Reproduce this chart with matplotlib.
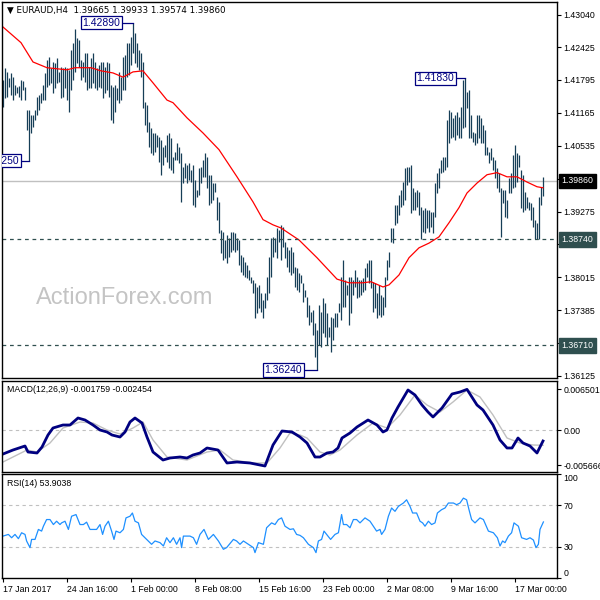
import numpy as np
import matplotlib
matplotlib.use('Agg')
import matplotlib.pyplot as plt
from matplotlib.transforms import blended_transform_factory

# EURAUD H4 bars, one high/low per bar
highs = [1.4180, 1.4203, 1.4195, 1.4184, 1.4193, 1.4185, 1.4170, 1.4166, 1.4168, 1.4180,
         1.4178, 1.4166, 1.4122, 1.4122, 1.4113, 1.4113, 1.4122, 1.4147, 1.4151, 1.4155,
         1.4170, 1.4193, 1.4218, 1.4224, 1.4203, 1.4214, 1.4212, 1.4222, 1.4195, 1.4205,
         1.4203, 1.4205, 1.4203, 1.4199, 1.4237, 1.4251, 1.4277, 1.4260, 1.4256, 1.4218,
         1.4214, 1.4231, 1.4231, 1.4205, 1.4222, 1.4231, 1.4214, 1.4203, 1.4208, 1.4214,
         1.4214, 1.4205, 1.4214, 1.4212, 1.4170, 1.4166, 1.4170, 1.4164, 1.4195, 1.4185,
         1.4224, 1.4228, 1.4251, 1.4251, 1.4262, 1.4289, 1.4270, 1.4251, 1.4237, 1.4231,
         1.4214, 1.4138, 1.4132, 1.4099, 1.4088, 1.4078, 1.4078, 1.4074, 1.4071, 1.4065,
         1.4051, 1.4055, 1.4074, 1.4078, 1.4069, 1.4032, 1.4042, 1.4059, 1.4051, 1.4040,
         1.4013, 1.4021, 1.4017, 1.4021, 1.4007, 1.4017, 1.3988, 1.3969, 1.4011, 1.4013,
         1.4026, 1.4040, 1.4032, 1.3998, 1.3998, 1.3982, 1.3982, 1.3956, 1.3946, 1.3892,
         1.3888, 1.3873, 1.3883, 1.3877, 1.3888, 1.3888, 1.3887, 1.3877, 1.3873, 1.3844,
         1.3841, 1.3831, 1.3825, 1.3816, 1.3802, 1.3797, 1.3791, 1.3783, 1.3787, 1.3772,
         1.3758, 1.3772, 1.3802, 1.3841, 1.3877, 1.3879, 1.3877, 1.3896, 1.3892, 1.3902,
         1.3898, 1.3869, 1.3860, 1.3854, 1.3860, 1.3850, 1.3821, 1.3820, 1.3810, 1.3806,
         1.3791, 1.3778, 1.3764, 1.3749, 1.3735, 1.3739, 1.3714, 1.3701, 1.3749, 1.3735,
         1.3762, 1.3753, 1.3733, 1.3706, 1.3726, 1.3724, 1.3733, 1.3733, 1.3753, 1.3802,
         1.3835, 1.3797, 1.3787, 1.3802, 1.3802, 1.3797, 1.3816, 1.3802, 1.3797, 1.3797,
         1.3800, 1.3820, 1.3829, 1.3835, 1.3835, 1.3793, 1.3791, 1.3772, 1.3787, 1.3768,
         1.3764, 1.3802, 1.3835, 1.3850, 1.3896, 1.3896, 1.3940, 1.3940, 1.3960, 1.3969,
         1.3984, 1.4011, 1.4013, 1.4013, 1.4017, 1.3973, 1.3965, 1.3969, 1.3965, 1.3937,
         1.3931, 1.3935, 1.3931, 1.3931, 1.3927, 1.3927, 1.3982, 1.4002, 1.4011, 1.4026,
         1.4032, 1.4032, 1.4103, 1.4122, 1.4118, 1.4107, 1.4113, 1.4118, 1.4109, 1.4128,
         1.4180, 1.4183, 1.4157, 1.4161, 1.4113, 1.4080, 1.4078, 1.4113, 1.4113, 1.4107,
         1.4093, 1.4084, 1.4051, 1.4042, 1.4049, 1.4032, 1.4026, 1.4011, 1.4002, 1.3973,
         1.3969, 1.3969, 1.3950, 1.3992, 1.4002, 1.4036, 1.4055, 1.4040, 1.4036, 1.4007,
         1.3998, 1.3965, 1.3956, 1.3946, 1.3944, 1.3937, 1.3912, 1.3906, 1.3956, 1.3975,
         1.3993]
lows = [1.4128, 1.4145, 1.4147, 1.4166, 1.4151, 1.4141, 1.4151, 1.4155, 1.4147, 1.4141,
        1.4161, 1.4141, 1.4084, 1.4025, 1.4078, 1.4090, 1.4103, 1.4113, 1.4122, 1.4136,
        1.4141, 1.4141, 1.4166, 1.4170, 1.4174, 1.4155, 1.4164, 1.4174, 1.4176, 1.4145,
        1.4147, 1.4164, 1.4141, 1.4118, 1.4161, 1.4180, 1.4195, 1.4212, 1.4205, 1.4180,
        1.4185, 1.4176, 1.4161, 1.4164, 1.4164, 1.4174, 1.4164, 1.4161, 1.4166, 1.4164,
        1.4145, 1.4155, 1.4161, 1.4147, 1.4103, 1.4097, 1.4118, 1.4141, 1.4136, 1.4141,
        1.4161, 1.4161, 1.4185, 1.4189, 1.4208, 1.4231, 1.4212, 1.4205, 1.4199, 1.4185,
        1.4126, 1.4093, 1.4080, 1.4051, 1.4040, 1.4036, 1.4042, 1.4051, 1.4023, 1.3998,
        1.4017, 1.4032, 1.4023, 1.4011, 1.4007, 1.4002, 1.4026, 1.4026, 1.4021, 1.3946,
        1.3982, 1.3992, 1.3982, 1.3988, 1.3984, 1.3940, 1.3937, 1.3956, 1.3960, 1.3982,
        1.3994, 1.3994, 1.3973, 1.3940, 1.3944, 1.3950, 1.3965, 1.3912, 1.3887, 1.3848,
        1.3835, 1.3839, 1.3829, 1.3841, 1.3850, 1.3854, 1.3850, 1.3854, 1.3825, 1.3812,
        1.3806, 1.3802, 1.3800, 1.3797, 1.3791, 1.3772, 1.3724, 1.3733, 1.3743, 1.3735,
        1.3724, 1.3743, 1.3758, 1.3772, 1.3802, 1.3841, 1.3850, 1.3839, 1.3869, 1.3835,
        1.3860, 1.3839, 1.3821, 1.3812, 1.3806, 1.3810, 1.3783, 1.3778, 1.3774, 1.3791,
        1.3754, 1.3764, 1.3726, 1.3710, 1.3716, 1.3691, 1.3649, 1.3624, 1.3672, 1.3668,
        1.3695, 1.3687, 1.3672, 1.3687, 1.3659, 1.3682, 1.3706, 1.3706, 1.3735, 1.3720,
        1.3745, 1.3745, 1.3768, 1.3710, 1.3733, 1.3768, 1.3783, 1.3762, 1.3764, 1.3768,
        1.3774, 1.3778, 1.3802, 1.3791, 1.3781, 1.3735, 1.3743, 1.3724, 1.3729, 1.3726,
        1.3729, 1.3745, 1.3797, 1.3821, 1.3869, 1.3867, 1.3902, 1.3906, 1.3921, 1.3937,
        1.3940, 1.3950, 1.3979, 1.3984, 1.3925, 1.3931, 1.3931, 1.3937, 1.3921, 1.3874,
        1.3888, 1.3887, 1.3896, 1.3888, 1.3898, 1.3887, 1.3917, 1.3963, 1.3973, 1.4002,
        1.4003, 1.4007, 1.4013, 1.4059, 1.4069, 1.4071, 1.4065, 1.4074, 1.4069, 1.4069,
        1.4088, 1.4090, 1.4126, 1.4069, 1.4069, 1.4061, 1.4055, 1.4059, 1.4069, 1.4059,
        1.4059, 1.4036, 1.4036, 1.4021, 1.4026, 1.4007, 1.3992, 1.3973, 1.3965, 1.3879,
        1.3944, 1.3917, 1.3915, 1.3963, 1.3963, 1.3973, 1.3975, 1.3984, 1.4013, 1.3935,
        1.3927, 1.3931, 1.3935, 1.3931, 1.3912, 1.3898, 1.3874, 1.3874, 1.3874, 1.3940,
        1.3957]

# red moving average
ma_idx = [0, 9, 15, 22, 32, 36, 44, 49, 55, 60, 65, 70, 75, 82, 85, 92, 100, 108, 117, 125,
          130, 133, 135, 139, 148, 157, 167, 173, 180, 184, 190, 193, 198, 203, 208, 213, 218,
          223, 228, 232, 237, 242, 247, 252, 257, 262, 267, 270]
ma_val = [1.4281, 1.4251, 1.4214, 1.4203, 1.4199, 1.4203, 1.4203, 1.4197, 1.4193, 1.4185,
          1.4195, 1.4197, 1.4174, 1.4141, 1.4136, 1.4107, 1.4078, 1.4046, 1.3994, 1.3946,
          1.3912, 1.3906, 1.3902, 1.3896, 1.3873, 1.3839, 1.3798, 1.3791, 1.3791, 1.3793,
          1.3783, 1.3787, 1.3806, 1.3839, 1.3858, 1.3867, 1.3879, 1.3906, 1.3935, 1.3963,
          1.3982, 1.3998, 1.4002, 1.3994, 1.3994, 1.3984, 1.3975, 1.3973]

# MACD(12,26,9)
macd_idx = [0, 5, 11, 12.5, 17, 19.5, 22.5, 25, 30, 33.5, 37.5, 41, 45, 48.5, 52, 54.5, 58.5,
            61, 63.5, 66, 69.5, 72, 75, 80, 83.5, 88.5, 92, 95, 98.5, 102, 107.5, 112, 117,
            123.5, 131, 135, 139.5, 144.5, 148.5, 152, 156, 158.5, 162, 165, 167.5, 169.5,
            173.5, 177, 182.5, 187, 190, 192, 194.5, 197.5, 202.5, 206, 209.5, 212.5, 215,
            219.5, 224.5, 228.5, 232, 237, 240, 245, 248.5, 252, 254.5, 257.5, 260, 263.5,
            267, 270]
macd_val = [-0.00384, -0.0032, -0.00256, -0.00352, -0.00368, -0.00272, -0.0008, 0.00032,
            0.0008, 0.0008, 0.00192, 0.0016, 0.0008, 0.0, -0.00032, -0.0008, -0.00112,
            -0.00032, 0.00128, 0.00192, 0.00112, -0.00112, -0.00352, -0.0048, -0.00448,
            -0.00432, -0.00448, -0.004, -0.00368, -0.00288, -0.0032, -0.00528, -0.00512,
            -0.00528, -0.00576, -0.0024, -0.00016, -0.00032, -0.00112, -0.00208, -0.00432,
            -0.00432, -0.00368, -0.00352, -0.00288, -0.00128, -0.00048, 0.00048, 0.0016,
            0.0008, -0.00032, 0.0, 0.00192, 0.00368, 0.0064, 0.0056, 0.004, 0.00288, 0.00208,
            0.00352, 0.00576, 0.00608, 0.0065, 0.004, 0.0032, 0.0008, -0.0016, -0.00288,
            -0.00288, -0.00128, -0.00208, -0.00256, -0.00368, -0.00176]
sig_idx = [0, 12, 17, 23.5, 30, 38.5, 45, 52, 58.5, 65, 70, 75, 82, 92, 102, 108.5, 115, 125,
           132, 138.5, 143.5, 148.5, 152, 158.5, 163.5, 168.5, 177, 185, 192, 198.5, 206, 212,
           218.5, 225, 232, 238.5, 245, 252, 258.5, 265, 270]
sig_val = [-0.00512, -0.0032, -0.00352, -0.00208, 0.00032, 0.00128, 0.00112, 0.0, -0.00064,
           0.00032, 0.00128, -0.0016, -0.00432, -0.0048, -0.00352, -0.0032, -0.0048, -0.00528,
           -0.00528, -0.00288, -0.00048, -0.0008, -0.00128, -0.00352, -0.004, -0.0032,
           -0.0008, 0.00112, 0.00032, 0.0024, 0.0056, 0.004, 0.00288, 0.00448, 0.0064,
           0.00528, 0.0024, -0.00128, -0.00208, -0.0024, -0.00245]

# RSI(14)
rsi_idx = [0, 2.7, 4.3, 6, 7.7, 9.3, 11, 11.8, 13.5, 14.3, 16, 17.7, 19.3, 20.2, 21.8, 23.5,
           25.2, 26.8, 28.5, 29.3, 31, 32.7, 34.3, 36.5, 38.5, 40.2, 41.8, 43.5, 46.8, 48.5,
           49.8, 51, 52.7, 54.3, 55.5, 56.5, 58.5, 60.2, 61.5, 63.5, 64.7, 66, 67.7, 69.3,
           71.8, 74.3, 76, 78.5, 80.2, 81.8, 83.5, 85.2, 86.8, 88.5, 89.3, 90.2, 93.5, 95.2,
           96.8, 98.5, 100.5, 102.7, 105.2, 107.7, 110.2, 111.8, 115.2, 116.8, 118.5, 120.2,
           122.7, 125.2, 126, 127.7, 130.2, 131.8, 134.3, 136, 137.7, 139.3, 141, 143.5, 145.2,
           146.8, 148.5, 150.2, 152.7, 155.2, 156.5, 157.7, 159.3, 160.5, 161.8, 163.8, 166,
           167.7, 169.3, 170.2, 171.8, 173.5, 175.2, 176.8, 178.5, 181, 183.5, 185.2, 186.8,
           188.5, 189.3, 191, 192.7, 194.3, 196, 197.7, 200.2, 201.8, 203.5, 204.8, 206.8,
           208.5, 209.8, 211, 212.7, 214.3, 216, 217.2, 219.3, 221, 222.7, 225.2, 226.8, 228.5,
           230.2, 231.8, 233, 234.3, 236, 238.5, 240.2, 242.7, 245.2, 247.2, 248.5, 249.8, 251,
           252.7, 254.3, 255.5, 257.7, 259.3, 261.8, 263.5, 265.2, 266.5, 267.7, 268.5, 270.2]
rsi_val = [40.3, 41.9, 38.7, 41.9, 37.8, 43.5, 41.9, 35.6, 29.2, 37.1, 37.1, 46.7, 45.1, 49.8,
           56.2, 56.2, 51.4, 54.6, 51.4, 53.0, 54.6, 46.7, 59.4, 61.0, 51.4, 51.4, 53.7, 46.7,
           46.7, 51.4, 41.9, 49.8, 54.6, 45.1, 37.1, 45.1, 43.5, 46.7, 57.8, 59.4, 62.5, 54.6,
           53.0, 41.9, 37.1, 32.4, 35.6, 34.0, 30.8, 38.7, 34.0, 38.7, 32.4, 38.7, 29.2, 40.3,
           40.3, 38.7, 32.4, 41.9, 46.7, 37.1, 41.9, 35.6, 27.6, 29.2, 37.1, 35.6, 32.4, 35.6,
           32.4, 29.2, 24.4, 34.0, 32.4, 48.3, 53.0, 51.4, 56.2, 57.8, 49.8, 46.7, 47.3, 41.9,
           41.0, 38.7, 32.4, 29.2, 24.4, 35.6, 37.1, 45.1, 41.9, 37.1, 41.9, 43.5, 61.0, 51.4,
           51.4, 48.3, 56.2, 56.2, 53.0, 57.8, 54.6, 49.8, 45.1, 46.7, 41.9, 46.7, 59.4, 67.3,
           64.1, 68.9, 72.1, 75.2, 68.9, 62.5, 62.5, 54.6, 53.0, 49.8, 54.6, 51.4, 53.0, 62.5,
           65.7, 67.3, 72.1, 72.1, 70.5, 72.1, 76.8, 75.2, 65.7, 56.2, 53.0, 57.8, 56.2, 45.1,
           43.5, 38.7, 30.8, 35.6, 34.0, 40.3, 43.5, 53.0, 49.8, 38.7, 37.1, 38.7, 36.5, 29.2,
           32.4, 46.7, 53.9]

date_idx = [0, 32, 64, 96, 128, 160, 192, 224, 256]
date_lbl = ['17 Jan 2017', '24 Jan 16:00', '1 Feb 00:00', '8 Feb 08:00', '15 Feb 16:00',
            '23 Feb 00:00', '2 Mar 08:00', '9 Mar 16:00', '17 Mar 00:00']
price_ticks = [1.43040, 1.42425, 1.41795, 1.41165, 1.40535, 1.39905, 1.39275, 1.38645,
               1.38015, 1.37385, 1.36755, 1.36125]
# these two sit under the price boxes in the original
hidden_ticks = [1.39905, 1.36755]

bar_col = '#163e57'
navy = '#000080'
slate = '#2f4f4f'
fnt = 'Liberation Sans'
fs = 6.3

plt.rcParams['font.family'] = [fnt, 'DejaVu Sans']

fig = plt.figure(figsize=(6, 6), dpi=100)
ax1 = fig.add_axes([2/600, 1-378/600, 555/600, 376/600])
ax2 = fig.add_axes([2/600, 1-472/600, 555/600, 91/600])
ax3 = fig.add_axes([2/600, 1-578/600, 555/600, 104/600])

for ax in (ax1, ax2, ax3):
    ax.set_xlim(-0.5, 277)
    ax.yaxis.tick_right()
    ax.tick_params(axis='y', direction='out', length=3, width=0.8, pad=1.5, labelsize=fs)
    ax.tick_params(axis='x', direction='out', length=3, width=0.8, pad=2, labelsize=fs)
    for s in ax.spines.values():
        s.set_linewidth(1.0)
        s.set_color('black')

# --- price panel
x = np.arange(len(highs))
ax1.vlines(x, lows, highs, color=bar_col, lw=0.9)
ax1.plot(ma_idx, ma_val, color='red', lw=0.9)
ax1.axhline(1.3986, color='#c0c0c0', lw=1, zorder=0)
ax1.axhline(1.3874, color=slate, lw=0.9, ls=(0, (3, 3)))
ax1.axhline(1.3671, color=slate, lw=0.9, ls=(0, (3, 3)))
ax1.set_ylim(1.36086, 1.43289)
ax1.set_xticks([])
ax1.set_yticks(price_ticks)
ax1.set_yticklabels(['' if p in hidden_ticks else '%.5f' % p for p in price_ticks])

tr = blended_transform_factory(ax1.transAxes, ax1.transData)
ax1.text(1.008, 1.3986, '1.39860', transform=tr, color='white', fontsize=fs, va='center',
         ha='left', clip_on=False, bbox=dict(boxstyle='square,pad=0.3', fc='black', ec='black'))
for lvl, txt in [(1.3874, '1.38740'), (1.3671, '1.36710')]:
    ax1.text(1.008, lvl, txt, transform=tr, color='white', fontsize=fs, va='center',
             ha='left', clip_on=False, bbox=dict(boxstyle='square,pad=0.3', fc=slate, ec=slate))

# high / low markers
for xr, xb, lvl, txt in [(59.5, 65, 1.4289, '1.42890'), (226.5, 231, 1.4183, '1.41830'),
                         (150.5, 157, 1.3624, '1.36240'), (9, 13, 1.4025, '1.40250')]:
    ax1.plot([xr, xb], [lvl, lvl], color=navy, lw=0.9)
    ax1.text(xr - 1, lvl, txt, ha='right', va='center', fontsize=7.5, color=navy,
             clip_on=True, bbox=dict(boxstyle='square,pad=0.15', fc='white', ec=navy, lw=0.9))

fig.text(7/600, 1-10/600, '\u25bc EURAUD,H4  1.39665 1.39933 1.39574 1.39860',
         fontsize=fs, va='center', ha='left', family=['DejaVu Sans'])
fig.text(36/600, 1-298/600, 'ActionForex.com', fontsize=17, color='#c4c4c4',
         va='center', ha='left')

# --- MACD panel
ax2.axhline(0, color='#c0c0c0', lw=0.8, ls=(0, (3, 3)))
ax2.plot(sig_idx, sig_val, color='#c0c0c0', lw=1)
ax2.plot(macd_idx, macd_val, color=navy, lw=2)
ax2.set_ylim(-0.00672, 0.00784)
ax2.set_xticks([])
ax2.set_yticks([0.006501, 0.0, -0.005666])
ax2.set_yticklabels(['0.006501', '0.00', '-0.005666'])
ax2.text(5/555, 1-9/91, 'MACD(12,26,9) -0.001759 -0.002454', transform=ax2.transAxes,
         fontsize=fs, va='center', ha='left')

# --- RSI panel
ax3.axhline(70, color='#c0c0c0', lw=0.8, ls=(0, (3, 3)))
ax3.axhline(30, color='#c0c0c0', lw=0.8, ls=(0, (3, 3)))
ax3.plot(rsi_idx, rsi_val, color='#1e90ff', lw=0.9)
ax3.set_ylim(0.95, 100)
ax3.set_yticks([100, 70, 30, 0])
ax3.set_yticklabels(['100', '70', '30', '0'])
lbls = ax3.get_yticklabels()
lbls[0].set_va('top')
lbls[3].set_va('bottom')
ax3.set_xticks(date_idx)
ax3.set_xticklabels(date_lbl, ha='left')
ax3.text(5/555, 1-10/104, 'RSI(14) 53.9038', transform=ax3.transAxes,
         fontsize=fs, va='center', ha='left')

fig.savefig('out.png', dpi=100)
